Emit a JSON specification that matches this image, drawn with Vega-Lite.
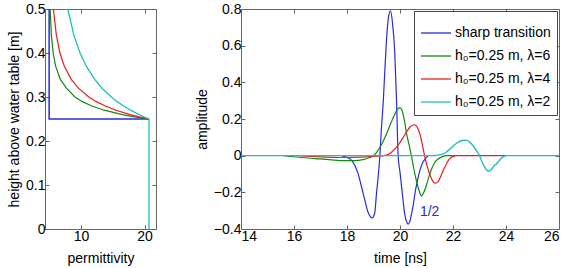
{
  "$schema": "https://vega.github.io/schema/vega-lite/v6.json",
  "background": "white",
  "padding": {"left": 7, "top": 1, "right": 4, "bottom": 2},
  "spacing": 37,
  "config": {
    "font": "Liberation Sans",
    "view": {"stroke": "#666666", "strokeWidth": 1},
    "axis": {
      "domain": false, "grid": false, "tickSize": -4, "tickColor": "#666666",
      "labelFontSize": 14, "titleFontSize": 14, "titleFontWeight": "normal",
      "labelColor": "#000000", "titleColor": "#000000", "labelPadding": 4,
      "labelFont": "Liberation Sans", "titleFont": "Liberation Sans", "titlePadding": 5,
      "format": "~r"
    },
    "axisX": {"titlePadding": 8}
  },
  "datasets": {
    "perm": [
      {"s": "sharp transition", "i": 1, "eps": 20.7, "h": 0.25},
      {"s": "sharp transition", "i": 2, "eps": 5.0, "h": 0.25},
      {"s": "sharp transition", "i": 3, "eps": 5.0, "h": 0.5},
      {"s": "h₀=0.25 m, λ=6", "i": 1, "eps": 20.7, "h": 0.25},
      {"s": "h₀=0.25 m, λ=6", "i": 2, "eps": 18.41, "h": 0.255},
      {"s": "h₀=0.25 m, λ=6", "i": 3, "eps": 16.52, "h": 0.26},
      {"s": "h₀=0.25 m, λ=6", "i": 4, "eps": 13.65, "h": 0.27},
      {"s": "h₀=0.25 m, λ=6", "i": 5, "eps": 11.62, "h": 0.28},
      {"s": "h₀=0.25 m, λ=6", "i": 6, "eps": 10.15, "h": 0.29},
      {"s": "h₀=0.25 m, λ=6", "i": 7, "eps": 9.07, "h": 0.30},
      {"s": "h₀=0.25 m, λ=6", "i": 8, "eps": 7.70, "h": 0.32},
      {"s": "h₀=0.25 m, λ=6", "i": 9, "eps": 6.77, "h": 0.34},
      {"s": "h₀=0.25 m, λ=6", "i": 10, "eps": 6.02, "h": 0.37},
      {"s": "h₀=0.25 m, λ=6", "i": 11, "eps": 5.64, "h": 0.40},
      {"s": "h₀=0.25 m, λ=6", "i": 12, "eps": 5.35, "h": 0.44},
      {"s": "h₀=0.25 m, λ=6", "i": 13, "eps": 5.16, "h": 0.50},
      {"s": "h₀=0.25 m, λ=4", "i": 1, "eps": 20.7, "h": 0.25},
      {"s": "h₀=0.25 m, λ=4", "i": 2, "eps": 19.13, "h": 0.255},
      {"s": "h₀=0.25 m, λ=4", "i": 3, "eps": 17.76, "h": 0.26},
      {"s": "h₀=0.25 m, λ=4", "i": 4, "eps": 15.50, "h": 0.27},
      {"s": "h₀=0.25 m, λ=4", "i": 5, "eps": 13.74, "h": 0.28},
      {"s": "h₀=0.25 m, λ=4", "i": 6, "eps": 12.35, "h": 0.29},
      {"s": "h₀=0.25 m, λ=4", "i": 7, "eps": 11.24, "h": 0.30},
      {"s": "h₀=0.25 m, λ=4", "i": 8, "eps": 9.60, "h": 0.32},
      {"s": "h₀=0.25 m, λ=4", "i": 9, "eps": 8.48, "h": 0.34},
      {"s": "h₀=0.25 m, λ=4", "i": 10, "eps": 7.39, "h": 0.37},
      {"s": "h₀=0.25 m, λ=4", "i": 11, "eps": 6.70, "h": 0.40},
      {"s": "h₀=0.25 m, λ=4", "i": 12, "eps": 6.14, "h": 0.44},
      {"s": "h₀=0.25 m, λ=4", "i": 13, "eps": 5.67, "h": 0.50},
      {"s": "h₀=0.25 m, λ=2", "i": 0, "eps": 20.7, "h": 0},
      {"s": "h₀=0.25 m, λ=2", "i": 1, "eps": 20.7, "h": 0.25},
      {"s": "h₀=0.25 m, λ=2", "i": 2, "eps": 19.89, "h": 0.255},
      {"s": "h₀=0.25 m, λ=2", "i": 3, "eps": 19.14, "h": 0.26},
      {"s": "h₀=0.25 m, λ=2", "i": 4, "eps": 17.81, "h": 0.27},
      {"s": "h₀=0.25 m, λ=2", "i": 5, "eps": 16.65, "h": 0.28},
      {"s": "h₀=0.25 m, λ=2", "i": 6, "eps": 15.65, "h": 0.29},
      {"s": "h₀=0.25 m, λ=2", "i": 7, "eps": 14.77, "h": 0.30},
      {"s": "h₀=0.25 m, λ=2", "i": 8, "eps": 13.31, "h": 0.32},
      {"s": "h₀=0.25 m, λ=2", "i": 9, "eps": 12.16, "h": 0.34},
      {"s": "h₀=0.25 m, λ=2", "i": 10, "eps": 10.84, "h": 0.37},
      {"s": "h₀=0.25 m, λ=2", "i": 11, "eps": 9.86, "h": 0.40},
      {"s": "h₀=0.25 m, λ=2", "i": 12, "eps": 8.90, "h": 0.44},
      {"s": "h₀=0.25 m, λ=2", "i": 13, "eps": 7.92, "h": 0.50}
    ],
    "wave": [
      {"s": "sharp transition", "t": 17.8, "a": 0},
      {"s": "sharp transition", "t": 18.0, "a": -0.01},
      {"s": "sharp transition", "t": 18.2, "a": -0.03},
      {"s": "sharp transition", "t": 18.4, "a": -0.09},
      {"s": "sharp transition", "t": 18.6, "a": -0.2},
      {"s": "sharp transition", "t": 18.8, "a": -0.31},
      {"s": "sharp transition", "t": 18.95, "a": -0.34},
      {"s": "sharp transition", "t": 19.05, "a": -0.31},
      {"s": "sharp transition", "t": 19.11, "a": -0.21},
      {"s": "sharp transition", "t": 19.18, "a": -0.11},
      {"s": "sharp transition", "t": 19.24, "a": 0},
      {"s": "sharp transition", "t": 19.3, "a": 0.15},
      {"s": "sharp transition", "t": 19.37, "a": 0.3},
      {"s": "sharp transition", "t": 19.43, "a": 0.47},
      {"s": "sharp transition", "t": 19.49, "a": 0.63},
      {"s": "sharp transition", "t": 19.56, "a": 0.75},
      {"s": "sharp transition", "t": 19.64, "a": 0.79},
      {"s": "sharp transition", "t": 19.72, "a": 0.72},
      {"s": "sharp transition", "t": 19.8, "a": 0.57},
      {"s": "sharp transition", "t": 19.87, "a": 0.3},
      {"s": "sharp transition", "t": 19.93, "a": 0},
      {"s": "sharp transition", "t": 20.0, "a": -0.09},
      {"s": "sharp transition", "t": 20.06, "a": -0.17},
      {"s": "sharp transition", "t": 20.12, "a": -0.25},
      {"s": "sharp transition", "t": 20.18, "a": -0.32},
      {"s": "sharp transition", "t": 20.25, "a": -0.36},
      {"s": "sharp transition", "t": 20.31, "a": -0.373},
      {"s": "sharp transition", "t": 20.37, "a": -0.36},
      {"s": "sharp transition", "t": 20.43, "a": -0.32},
      {"s": "sharp transition", "t": 20.5, "a": -0.27},
      {"s": "sharp transition", "t": 20.56, "a": -0.21},
      {"s": "sharp transition", "t": 20.65, "a": -0.14},
      {"s": "sharp transition", "t": 20.75, "a": -0.08},
      {"s": "sharp transition", "t": 20.85, "a": -0.04},
      {"s": "sharp transition", "t": 20.94, "a": -0.02},
      {"s": "sharp transition", "t": 21.06, "a": 0},
      {"s": "h₀=0.25 m, λ=6", "t": 15.6, "a": 0},
      {"s": "h₀=0.25 m, λ=6", "t": 16, "a": -0.006},
      {"s": "h₀=0.25 m, λ=6", "t": 16.8, "a": -0.016},
      {"s": "h₀=0.25 m, λ=6", "t": 17.4, "a": -0.023},
      {"s": "h₀=0.25 m, λ=6", "t": 17.9, "a": -0.027},
      {"s": "h₀=0.25 m, λ=6", "t": 18.3, "a": -0.027},
      {"s": "h₀=0.25 m, λ=6", "t": 18.6, "a": -0.022},
      {"s": "h₀=0.25 m, λ=6", "t": 18.86, "a": -0.01},
      {"s": "h₀=0.25 m, λ=6", "t": 19.0, "a": 0},
      {"s": "h₀=0.25 m, λ=6", "t": 19.11, "a": 0.017},
      {"s": "h₀=0.25 m, λ=6", "t": 19.3, "a": 0.06},
      {"s": "h₀=0.25 m, λ=6", "t": 19.49, "a": 0.118},
      {"s": "h₀=0.25 m, λ=6", "t": 19.65, "a": 0.175},
      {"s": "h₀=0.25 m, λ=6", "t": 19.8, "a": 0.226},
      {"s": "h₀=0.25 m, λ=6", "t": 19.92, "a": 0.255},
      {"s": "h₀=0.25 m, λ=6", "t": 20.0, "a": 0.262},
      {"s": "h₀=0.25 m, λ=6", "t": 20.08, "a": 0.245},
      {"s": "h₀=0.25 m, λ=6", "t": 20.17, "a": 0.19},
      {"s": "h₀=0.25 m, λ=6", "t": 20.25, "a": 0.118},
      {"s": "h₀=0.25 m, λ=6", "t": 20.34, "a": 0.06},
      {"s": "h₀=0.25 m, λ=6", "t": 20.43, "a": 0},
      {"s": "h₀=0.25 m, λ=6", "t": 20.52, "a": -0.07},
      {"s": "h₀=0.25 m, λ=6", "t": 20.62, "a": -0.137},
      {"s": "h₀=0.25 m, λ=6", "t": 20.72, "a": -0.19},
      {"s": "h₀=0.25 m, λ=6", "t": 20.81, "a": -0.22},
      {"s": "h₀=0.25 m, λ=6", "t": 20.9, "a": -0.2},
      {"s": "h₀=0.25 m, λ=6", "t": 21.0, "a": -0.16},
      {"s": "h₀=0.25 m, λ=6", "t": 21.1, "a": -0.11},
      {"s": "h₀=0.25 m, λ=6", "t": 21.2, "a": -0.07},
      {"s": "h₀=0.25 m, λ=6", "t": 21.3, "a": -0.04},
      {"s": "h₀=0.25 m, λ=6", "t": 21.45, "a": -0.017},
      {"s": "h₀=0.25 m, λ=6", "t": 21.6, "a": -0.005},
      {"s": "h₀=0.25 m, λ=6", "t": 21.75, "a": 0},
      {"s": "h₀=0.25 m, λ=6", "t": 22.1, "a": 0},
      {"s": "h₀=0.25 m, λ=4", "t": 16.2, "a": 0},
      {"s": "h₀=0.25 m, λ=4", "t": 17, "a": -0.007},
      {"s": "h₀=0.25 m, λ=4", "t": 17.8, "a": -0.01},
      {"s": "h₀=0.25 m, λ=4", "t": 18.5, "a": -0.008},
      {"s": "h₀=0.25 m, λ=4", "t": 19.0, "a": -0.004},
      {"s": "h₀=0.25 m, λ=4", "t": 19.4, "a": 0},
      {"s": "h₀=0.25 m, λ=4", "t": 19.62, "a": 0.012},
      {"s": "h₀=0.25 m, λ=4", "t": 19.75, "a": 0.028},
      {"s": "h₀=0.25 m, λ=4", "t": 19.87, "a": 0.047},
      {"s": "h₀=0.25 m, λ=4", "t": 20.0, "a": 0.072},
      {"s": "h₀=0.25 m, λ=4", "t": 20.12, "a": 0.1},
      {"s": "h₀=0.25 m, λ=4", "t": 20.25, "a": 0.13},
      {"s": "h₀=0.25 m, λ=4", "t": 20.37, "a": 0.155},
      {"s": "h₀=0.25 m, λ=4", "t": 20.47, "a": 0.166},
      {"s": "h₀=0.25 m, λ=4", "t": 20.56, "a": 0.168},
      {"s": "h₀=0.25 m, λ=4", "t": 20.65, "a": 0.155},
      {"s": "h₀=0.25 m, λ=4", "t": 20.75, "a": 0.118},
      {"s": "h₀=0.25 m, λ=4", "t": 20.85, "a": 0.055},
      {"s": "h₀=0.25 m, λ=4", "t": 20.94, "a": -0.01},
      {"s": "h₀=0.25 m, λ=4", "t": 21.03, "a": -0.06},
      {"s": "h₀=0.25 m, λ=4", "t": 21.12, "a": -0.1},
      {"s": "h₀=0.25 m, λ=4", "t": 21.22, "a": -0.135},
      {"s": "h₀=0.25 m, λ=4", "t": 21.32, "a": -0.15},
      {"s": "h₀=0.25 m, λ=4", "t": 21.4, "a": -0.148},
      {"s": "h₀=0.25 m, λ=4", "t": 21.5, "a": -0.125},
      {"s": "h₀=0.25 m, λ=4", "t": 21.63, "a": -0.08},
      {"s": "h₀=0.25 m, λ=4", "t": 21.75, "a": -0.045},
      {"s": "h₀=0.25 m, λ=4", "t": 21.85, "a": -0.02},
      {"s": "h₀=0.25 m, λ=4", "t": 22.0, "a": -0.004},
      {"s": "h₀=0.25 m, λ=4", "t": 22.1, "a": 0},
      {"s": "h₀=0.25 m, λ=4", "t": 24, "a": 0},
      {"s": "h₀=0.25 m, λ=2", "t": 14, "a": 0},
      {"s": "h₀=0.25 m, λ=2", "t": 21.3, "a": 0},
      {"s": "h₀=0.25 m, λ=2", "t": 21.5, "a": 0.004},
      {"s": "h₀=0.25 m, λ=2", "t": 21.63, "a": 0.01},
      {"s": "h₀=0.25 m, λ=2", "t": 21.75, "a": 0.02},
      {"s": "h₀=0.25 m, λ=2", "t": 21.9, "a": 0.038},
      {"s": "h₀=0.25 m, λ=2", "t": 22.05, "a": 0.058},
      {"s": "h₀=0.25 m, λ=2", "t": 22.2, "a": 0.074},
      {"s": "h₀=0.25 m, λ=2", "t": 22.35, "a": 0.083},
      {"s": "h₀=0.25 m, λ=2", "t": 22.5, "a": 0.085},
      {"s": "h₀=0.25 m, λ=2", "t": 22.62, "a": 0.075},
      {"s": "h₀=0.25 m, λ=2", "t": 22.76, "a": 0.054},
      {"s": "h₀=0.25 m, λ=2", "t": 22.88, "a": 0.028},
      {"s": "h₀=0.25 m, λ=2", "t": 23.0, "a": 0},
      {"s": "h₀=0.25 m, λ=2", "t": 23.1, "a": -0.035},
      {"s": "h₀=0.25 m, λ=2", "t": 23.2, "a": -0.064},
      {"s": "h₀=0.25 m, λ=2", "t": 23.33, "a": -0.085},
      {"s": "h₀=0.25 m, λ=2", "t": 23.45, "a": -0.075},
      {"s": "h₀=0.25 m, λ=2", "t": 23.55, "a": -0.055},
      {"s": "h₀=0.25 m, λ=2", "t": 23.64, "a": -0.045},
      {"s": "h₀=0.25 m, λ=2", "t": 23.73, "a": -0.03},
      {"s": "h₀=0.25 m, λ=2", "t": 23.83, "a": -0.013},
      {"s": "h₀=0.25 m, λ=2", "t": 23.92, "a": -0.004},
      {"s": "h₀=0.25 m, λ=2", "t": 24.0, "a": 0},
      {"s": "h₀=0.25 m, λ=2", "t": 26, "a": 0}
    ],
    "note": [
      {"t": 21.12, "a": -0.309, "label": "1/2"}
    ]
  },
  "resolve": {"scale": {"color": "independent"}},
  "hconcat": [
    {
      "width": 111,
      "height": 220,
      "data": {"name": "perm"},
      "resolve": {"axis": {"x": "independent", "y": "independent"}},
      "layer": [
        {
          "encoding": {
            "x": {"field": "eps", "type": "quantitative",
                  "scale": {"domain": [4.35, 21.8], "nice": false, "zero": false},
                  "axis": {"values": [10, 20], "title": "permittivity"}},
            "y": {"field": "h", "type": "quantitative",
                  "scale": {"domain": [0, 0.5], "nice": false},
                  "axis": {"values": [0, 0.1, 0.2, 0.3, 0.4, 0.5], "title": "height above water table [m]", "titlePadding": 4}},
            "color": {"field": "s", "type": "nominal",
                      "scale": {"domain": ["sharp transition", "h₀=0.25 m, λ=6", "h₀=0.25 m, λ=4", "h₀=0.25 m, λ=2"],
                                "range": ["#2b2bdb", "#118811", "#ee1c1c", "#1cbfbf"]},
                      "legend": null},
            "order": {"field": "i", "type": "quantitative"}
          },
          "layer": [
            {"transform": [{"filter": "datum.s == 'sharp transition'"}], "mark": {"type": "line", "strokeWidth": 1.5}},
            {"transform": [{"filter": "datum.s == 'h₀=0.25 m, λ=6'"}], "mark": {"type": "line", "strokeWidth": 1.2}},
            {"transform": [{"filter": "datum.s == 'h₀=0.25 m, λ=4'"}], "mark": {"type": "line", "strokeWidth": 1.2}},
            {"transform": [{"filter": "datum.s == 'h₀=0.25 m, λ=2'"}], "mark": {"type": "line", "strokeWidth": 1.3}}
          ]
        },
        {
          "mark": {"type": "point", "opacity": 0},
          "encoding": {
            "x": {"field": "eps", "type": "quantitative",
                  "scale": {"domain": [4.35, 21.8], "nice": false, "zero": false},
                  "axis": {"orient": "top", "values": [10, 20], "labels": false, "title": null}},
            "y": {"field": "h", "type": "quantitative",
                  "scale": {"domain": [0, 0.5], "nice": false},
                  "axis": {"orient": "right", "values": [0, 0.1, 0.2, 0.3, 0.4, 0.5], "labels": false, "title": null}}
          }
        }
      ]
    },
    {
      "width": 318,
      "height": 220,
      "resolve": {"axis": {"x": "independent", "y": "independent"}},
      "layer": [
        {
          "data": {"name": "wave"},
          "encoding": {
            "x": {"field": "t", "type": "quantitative",
                  "scale": {"domain": [14, 26], "nice": false, "zero": false},
                  "axis": {"values": [14, 16, 18, 20, 22, 24, 26], "title": "time [ns]"}},
            "y": {"field": "a", "type": "quantitative",
                  "scale": {"domain": [-0.4, 0.8], "nice": false},
                  "axis": {"values": [-0.4, -0.2, 0, 0.2, 0.4, 0.6, 0.8], "title": "amplitude", "titlePadding": 4}},
            "color": {"field": "s", "type": "nominal",
                      "scale": {"domain": ["sharp transition", "h₀=0.25 m, λ=6", "h₀=0.25 m, λ=4", "h₀=0.25 m, λ=2"],
                                "range": ["#2b2bdb", "#118811", "#ee1c1c", "#1cbfbf"]},
                      "legend": {"orient": "top-right", "title": null, "offset": 2,
                                 "symbolType": "stroke", "symbolSize": 900, "symbolStrokeWidth": 1.3,
                                 "labelFontSize": 14, "labelFont": "Liberation Sans", "labelColor": "#000000",
                                 "labelLimit": 300, "labelOffset": 3,
                                 "strokeColor": "#444444", "fillColor": "white", "padding": 6, "rowPadding": 0}}
          },
          "layer": [
            {"transform": [{"filter": "datum.s == 'sharp transition'"}], "mark": {"type": "line", "strokeWidth": 1.2, "interpolate": "monotone"}},
            {"transform": [{"filter": "datum.s == 'h₀=0.25 m, λ=6'"}], "mark": {"type": "line", "strokeWidth": 1.2, "interpolate": "monotone"}},
            {"transform": [{"filter": "datum.s == 'h₀=0.25 m, λ=4'"}], "mark": {"type": "line", "strokeWidth": 1.2, "interpolate": "monotone"}},
            {"transform": [{"filter": "datum.s == 'h₀=0.25 m, λ=2'"}], "mark": {"type": "line", "strokeWidth": 1.4, "interpolate": "monotone"}}
          ]
        },
        {
          "data": {"name": "note"},
          "mark": {"type": "text", "fontSize": 14, "color": "#2b2bdb", "align": "center", "baseline": "middle", "font": "Liberation Sans"},
          "encoding": {
            "x": {"field": "t", "type": "quantitative", "axis": null},
            "y": {"field": "a", "type": "quantitative", "axis": null},
            "text": {"field": "label"}
          }
        },
        {
          "data": {"name": "note"},
          "mark": {"type": "point", "opacity": 0},
          "encoding": {
            "x": {"field": "t", "type": "quantitative",
                  "axis": {"orient": "top", "values": [14, 16, 18, 20, 22, 24, 26], "labels": false, "title": null}},
            "y": {"field": "a", "type": "quantitative",
                  "axis": {"orient": "right", "values": [-0.4, -0.2, 0, 0.2, 0.4, 0.6, 0.8], "labels": false, "title": null}}
          }
        }
      ]
    }
  ]
}
